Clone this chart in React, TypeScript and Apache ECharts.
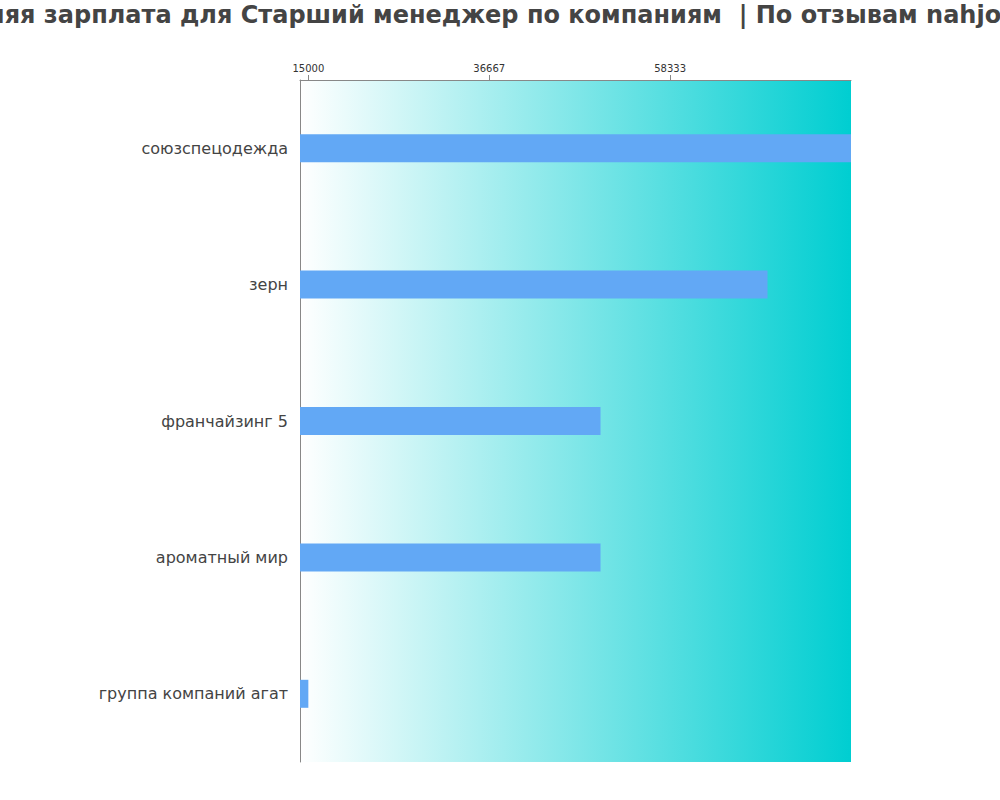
import { useEffect, useRef } from 'react'
import * as echarts from 'echarts'

const titleText =
  'Средняя зарплата для Старший менеджер по компаниям  | По отзывам nahjob.ru'

const companies = [
  'союзспецодежда',
  'зерн',
  'франчайзинг 5',
  'ароматный мир',
  'группа компаний агат',
]

const salaries = [80000, 70000, 50000, 50000, 15000]

const tickValues = [15000, 36667, 58333]

export default function App() {
  const chartRef = useRef<HTMLDivElement>(null)

  useEffect(() => {
    if (!chartRef.current) return
    document.body.style.margin = '0'

    const chart = echarts.init(chartRef.current, null, { renderer: 'svg' })

    const option = {
      animation: false,
      textStyle: { fontFamily: 'DejaVu Sans' },
      // title drawn as graphic text so it can sit a bit left of centre
      graphic: [
        {
          type: 'text',
          x: 487,
          y: 15,
          style: {
            text: titleText,
            textAlign: 'center',
            textVerticalAlign: 'middle',
            fontFamily: 'DejaVu Sans',
            fontSize: 24,
            fontWeight: 'bold',
            fill: '#444',
          },
        },
      ],
      grid: {
        left: 300,
        right: 149,
        top: 80,
        bottom: 38,
        show: true,
        borderWidth: 0,
        backgroundColor: new echarts.graphic.LinearGradient(0, 0, 1, 0, [
          { offset: 0, color: '#ffffff' },
          { offset: 1, color: '#00ced1' },
        ]),
      },
      xAxis: {
        type: 'value',
        position: 'top',
        min: 14000,
        max: 80000,
        axisLine: { show: true, lineStyle: { color: '#888', width: 1 } },
        axisTick: {
          show: true,
          length: 5,
          customValues: tickValues,
          lineStyle: { color: '#888' },
        },
        axisLabel: {
          customValues: tickValues,
          formatter: (v: number) => String(v),
          color: '#333',
          fontSize: 10,
          margin: 7,
        },
        splitLine: { show: false },
      },
      yAxis: {
        type: 'category',
        inverse: true,
        data: companies,
        axisLine: { show: true, lineStyle: { color: '#888', width: 1 } },
        axisTick: { show: false },
        axisLabel: {
          color: '#444',
          fontSize: 16,
          margin: 12,
          padding: [0, 0, 6, 0],
        },
      },
      series: [
        {
          type: 'bar',
          data: salaries,
          barWidth: 28,
          itemStyle: { color: '#62a8f5' },
        },
      ],
    }

    chart.setOption(option)

    return () => {
      chart.dispose()
    }
  }, [])

  return <div ref={chartRef} style={{ width: 1000, height: 800 }} />
}
